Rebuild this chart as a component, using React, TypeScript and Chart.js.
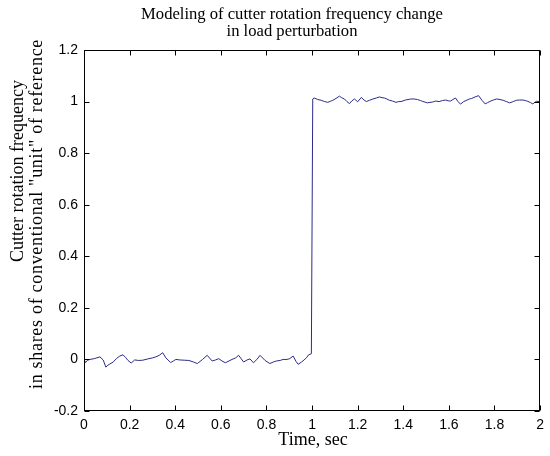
import React, { useEffect, useRef } from "react";
import { Chart, registerables } from "chart.js";

Chart.register(...registerables);

const titleLines = ["Modeling of cutter rotation frequency change", "in load perturbation"];
const yTitleLines = ["Cutter rotation frequency", "in shares of conventional \"unit\" of reference"];
const xTitle = "Time, sec";

const xTicks = [0, 0.2, 0.4, 0.6, 0.8, 1, 1.2, 1.4, 1.6, 1.8, 2];
const yTicks = [-0.2, 0, 0.2, 0.4, 0.6, 0.8, 1, 1.2];

const time = [
  0, 0.007, 0.014, 0.026, 0.045, 0.07, 0.084, 0.096, 0.105, 0.113, 0.128, 0.143, 0.157, 0.171, 0.182,
  0.193, 0.207, 0.222, 0.24, 0.258, 0.28, 0.301, 0.315, 0.33, 0.345, 0.359, 0.38, 0.392, 0.403, 0.42,
  0.439, 0.46, 0.48, 0.497, 0.52, 0.54, 0.562, 0.577, 0.591, 0.605, 0.62, 0.649, 0.665, 0.678, 0.7,
  0.715, 0.728, 0.743, 0.758, 0.772, 0.794, 0.815, 0.83, 0.844, 0.86, 0.873, 0.89, 0.902, 0.917, 0.93,
  0.939, 0.954, 0.965, 0.975, 0.985, 0.997,
  1.003, 1.009, 1.025, 1.04, 1.055, 1.069, 1.08, 1.091, 1.105, 1.12, 1.13, 1.142, 1.153, 1.164, 1.175,
  1.186, 1.2, 1.216, 1.228, 1.238, 1.252, 1.267, 1.282, 1.296, 1.307, 1.317, 1.328, 1.339, 1.353, 1.368,
  1.38, 1.39, 1.41, 1.433, 1.447, 1.462, 1.475, 1.484, 1.495, 1.506, 1.517, 1.528, 1.542, 1.557, 1.572,
  1.586, 1.597, 1.607, 1.618, 1.629, 1.64, 1.651, 1.665, 1.68, 1.69, 1.7, 1.715, 1.73, 1.745, 1.759,
  1.77, 1.781, 1.795, 1.81, 1.824, 1.838, 1.852, 1.867, 1.882, 1.896, 1.91, 1.925, 1.935, 1.946, 1.958,
  1.968, 1.983, 2.0,
];

const frequency = [
  0, -0.012, -0.004, 0, 0.003, 0.01, -0.002, -0.03, -0.022, -0.018, -0.01, 0.004, 0.013, 0.018, 0.008,
  -0.004, -0.014, -0.002, -0.004, -0.003, 0.002, 0.006, 0.01, 0.016, 0.026, 0.006, -0.012, -0.006, 0, -0.002,
  -0.003, -0.004, -0.01, -0.016, 0, 0.016, -0.006, -0.002, 0.003, -0.006, -0.013, 0, 0.006, 0.016, -0.01,
  -0.002, 0.002, -0.013, 0, 0.016, -0.004, -0.016, -0.01, -0.006, -0.004, 0, 0, 0.003, 0.013, -0.008,
  -0.019, -0.01, -0.002, 0.006, 0.018, 0.022,
  1.01, 1.014, 1.008, 1.005, 1.0, 0.997, 1.001, 1.005, 1.012, 1.021, 1.015, 1.01, 1.0, 0.992, 1.003,
  1.01, 0.999, 1.016, 1.006, 1.0, 1.005, 1.01, 1.014, 1.018, 1.015, 1.014, 1.01, 1.005, 1.002, 0.997,
  1.0, 1.0, 1.006, 1.01, 1.01, 1.008, 1.004, 1.001, 0.998, 0.995, 0.997, 0.998, 1.002, 1.0, 1.004,
  1.006, 1.003, 1.002, 1.008, 1.014, 1.0, 0.99, 1.0, 1.006, 1.01, 1.012, 1.018, 1.023, 1.005, 0.991,
  0.996, 1.001, 1.006, 1.01, 1.008, 1.005, 1.0, 0.995, 1.0, 1.005, 1.006, 1.006, 1.004, 1.001, 0.996,
  0.991, 1.001, 1.0,
];

const fmt = (v: number) => String(Math.round(v * 10) / 10);

const framePlugin = {
  id: "matlabFrame",
  afterDraw(chart: any) {
    const ctx = chart.ctx;
    const a = chart.chartArea;
    const xs = chart.scales.x;
    const ys = chart.scales.y;
    const L = Math.round(a.left) + 0.5;
    const R = Math.round(a.right) - 0.5;
    const T = Math.round(a.top) + 0.5;
    const B = Math.round(a.bottom) - 0.5;
    ctx.save();
    ctx.strokeStyle = "#000";
    ctx.lineWidth = 1;
    ctx.strokeRect(L, T, R - L, B - T);
    const tl = 5;
    ctx.beginPath();
    xTicks.forEach((v) => {
      const px = Math.round(xs.getPixelForValue(v)) + 0.5;
      ctx.moveTo(px, B);
      ctx.lineTo(px, B - tl);
      ctx.moveTo(px, T);
      ctx.lineTo(px, T + tl);
    });
    yTicks.forEach((v) => {
      const py = Math.round(ys.getPixelForValue(v)) + 0.5;
      ctx.moveTo(L, py);
      ctx.lineTo(L + tl, py);
      ctx.moveTo(R, py);
      ctx.lineTo(R - tl, py);
    });
    ctx.stroke();

    ctx.fillStyle = "#000";
    ctx.textAlign = "center";
    ctx.textBaseline = "middle";
    ctx.font = '16.6px "Liberation Serif"';
    ctx.fillText(titleLines[0], 292, 15);
    ctx.fillText(titleLines[1], 292, 32);
    ctx.font = '18px "Liberation Serif"';
    ctx.fillText(xTitle, 313, 440);

    const pos = [
      [18, 171, 0],
      [37, 214, 0.7],
    ];
    pos.forEach(([cx, cy, sp], i) => {
      ctx.save();
      ctx.translate(cx, cy);
      ctx.rotate(-Math.PI / 2);
      (ctx as any).letterSpacing = sp + "px";
      ctx.fillText(yTitleLines[i], 0, 0);
      ctx.restore();
    });
    ctx.restore();
  },
};

export default function App() {
  const ref = useRef<HTMLCanvasElement | null>(null);
  useEffect(() => {
    document.body.style.margin = "0";
    const canvas = ref.current;
    if (!canvas) return;
    const points = time.map((t, i) => ({ x: t, y: frequency[i] }));
    const chart = new Chart(canvas, {
      type: "line",
      data: {
        datasets: [
          {
            data: points,
            borderColor: "#2b2b8a",
            borderWidth: 1,
            pointRadius: 0,
            tension: 0,
            fill: false,
          },
        ],
      },
      options: {
        animation: false,
        responsive: false,
        maintainAspectRatio: false,
        layout: { padding: { top: 50, right: 6, left: 0, bottom: 0 } },
        plugins: { legend: { display: false }, title: { display: false }, tooltip: { enabled: false } },
        scales: {
          x: {
            type: "linear",
            min: 0,
            max: 2,
            grid: { display: false, drawTicks: false },
            border: { display: false },
            afterFit: (s: any) => {
              s.height = 45;
            },
            afterBuildTicks: (s: any) => {
              s.ticks = xTicks.map((v) => ({ value: v }));
            },
            ticks: {
              padding: 6,
              color: "#000",
              font: { family: '"Liberation Sans"', size: 14 },
              maxRotation: 0,
              autoSkip: false,
              callback: (v: any) => fmt(Number(v)),
            },
          },
          y: {
            type: "linear",
            min: -0.2,
            max: 1.2,
            grid: { display: false, drawTicks: false },
            border: { display: false },
            afterFit: (s: any) => {
              s.width = 84;
            },
            afterBuildTicks: (s: any) => {
              s.ticks = yTicks.map((v) => ({ value: v }));
            },
            ticks: {
              padding: 6,
              color: "#000",
              font: { family: '"Liberation Sans"', size: 14 },
              autoSkip: false,
              callback: (v: any) => fmt(Number(v)),
            },
          },
        },
      },
      plugins: [framePlugin],
    });
    return () => chart.destroy();
  }, []);
  return (
    <div style={{ width: 550, height: 456, background: "#fff" }}>
      <canvas ref={ref} width={550} height={456} style={{ display: "block" }} />
    </div>
  );
}
